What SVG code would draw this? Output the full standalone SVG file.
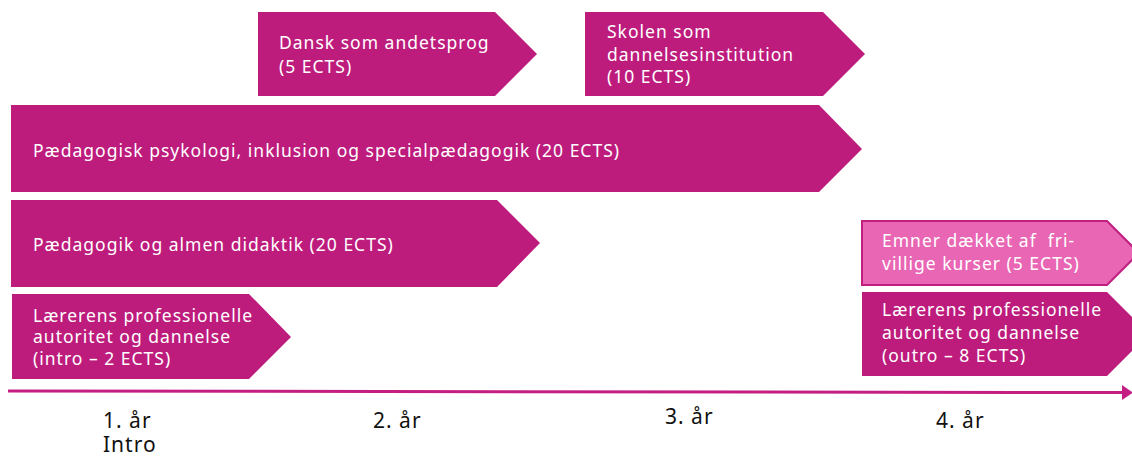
<svg xmlns="http://www.w3.org/2000/svg" width="1132" height="457" viewBox="0 0 1132 457">
<style>
.box{fill:#BD1C7D}
.light{fill:#E866B4;stroke:#C01F80;stroke-width:2}
.t{font-family:"Noto Sans","Liberation Sans",sans-serif;font-size:17.5px;letter-spacing:1px;fill:#FFFFFF}
.y{font-family:"Noto Sans","Liberation Sans",sans-serif;font-size:21px;letter-spacing:1px;fill:#111111}
</style>
<rect width="1132" height="457" fill="#FFFFFF"/>
<g id="dansk">
<polygon class="box" points="258,12 495,12 537,54 495,96 258,96"/>
<text class="t" x="279" y="49">Dansk som andetsprog</text>
<text class="t" x="279" y="73">(5 ECTS)</text>
</g>
<g id="skolen">
<polygon class="box" points="585,12 823,12 865,54 823,96 585,96"/>
<text class="t" x="607" y="38">Skolen som</text>
<text class="t" x="607" y="61">dannelsesinstitution</text>
<text class="t" x="607" y="83">(10 ECTS)</text>
</g>
<g id="psyk">
<polygon class="box" points="11,105 819,105 862,149 819,192 11,192"/>
<text class="t" x="33" y="157">Pædagogisk psykologi, inklusion og specialpædagogik (20 ECTS)</text>
</g>
<g id="didaktik">
<polygon class="box" points="11,200 497,200 540,243 497,287 11,287"/>
<text class="t" x="33" y="251">Pædagogik og almen didaktik (20 ECTS)</text>
</g>
<g id="intro">
<polygon class="box" points="12,294 249,294 291,337 249,379 12,379"/>
<text class="t" x="33" y="322">Lærerens professionelle</text>
<text class="t" x="33" y="343">autoritet og dannelse</text>
<text class="t" x="33" y="365">(intro – 2 ECTS)</text>
</g>
<g id="emner">
<polygon class="light" points="862,221 1107,221 1139,253 1107,285 862,285"/>
<text class="t" x="882" y="247">Emner dækket af&#160; fri-</text>
<text class="t" x="882" y="270">villige kurser (5 ECTS)</text>
</g>
<g id="outro">
<polygon class="box" points="862,292 1107,292 1149,334 1107,376 862,376"/>
<text class="t" x="882" y="316">Lærerens professionelle</text>
<text class="t" x="882" y="339">autoritet og dannelse</text>
<text class="t" x="882" y="362">(outro – 8 ECTS)</text>
</g>
<g id="connectors">
<line x1="8" y1="391" x2="1124" y2="392.6" stroke="#C41E82" stroke-width="3"/>
<polygon points="1122,385 1133,392.7 1122,400" fill="#C41E82"/>
</g>
<g id="years">
<text class="y" x="103" y="428">1. år</text>
<text class="y" x="103" y="452">Intro</text>
<text class="y" x="373" y="428">2. år</text>
<text class="y" x="665" y="424">3. år</text>
<text class="y" x="936" y="428">4. år</text>
</g>
</svg>
